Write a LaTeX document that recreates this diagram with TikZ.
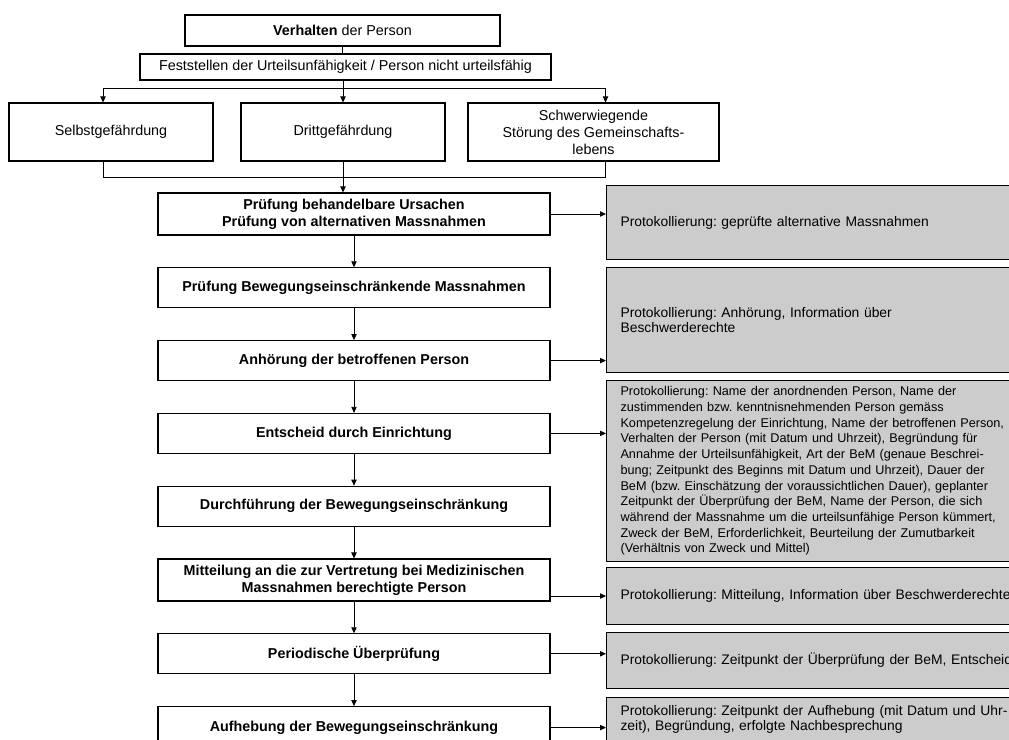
\documentclass[tikz,border=0pt]{standalone}
\usepackage{fontspec}
\setmainfont{Liberation Sans}
\usetikzlibrary{positioning,arrows.meta}
\frenchspacing

\begin{document}
\begin{tikzpicture}[x=0.75pt, y=-0.75pt,
  font=\fontsize{10.75}{12.8}\selectfont,
  base/.style={draw, line width=0.8pt, inner sep=0pt, align=center},
  stepbox/.style={base, minimum width=294pt, minimum height=30pt, font=\fontsize{10.75}{12.8}\selectfont\bfseries},
  casebox/.style={base, minimum width=153pt, minimum height=43.5pt},
  logbox/.style={base, fill=black!20, anchor=north west, align=left, inner xsep=10.5pt, text width=307.5pt,
    font=\fontsize{10.4}{11.8}\selectfont},
  arr/.style={-{Triangle[length=4.5pt,width=4pt]}, line width=0.6pt},
  node distance=23.8pt]
%\draw [help lines] (0,0) grid (1009,739);
\useasboundingbox (0,0) rectangle (1009,739);
\clip (0,0) rectangle (1009,739);

\node[base, minimum width=236.25pt, minimum height=23.25pt] (verh) at (342.5,30.5) {\textbf{Verhalten} der Person};
\node[base, minimum width=308.25pt, minimum height=19.5pt]  (fest) at (345.5,67)   {Feststellen der Urteilsunfähigkeit / Person nicht urteilsfähig};

\node[casebox]                          (selbst) at (111,132)   {Selbstgefährdung};
\node[casebox]                          (dritt)  at (343,132)   {Drittgefährdung};
\node[casebox, minimum width=188.25pt]  (schwer) at (593.5,132) {Schwerwiegende\\Störung des Gemeinschafts-\\lebens};

\node[stepbox, minimum height=31.5pt] (pr1) at (354,214) {Prüfung behandelbare Ursachen\\Prüfung von alternativen Massnahmen};
\node[stepbox, below = of pr1]        (pr2) {Prüfung Bewegungseinschränkende Massnahmen};
\node[stepbox, below = of pr2]        (pr3) {Anhörung der betroffenen Person};
\node[stepbox, below = of pr3]        (pr4) {Entscheid durch Einrichtung};
\node[stepbox, below = of pr4]        (pr5) {Durchführung der Bewegungseinschränkung};
\node[stepbox, below = of pr5, minimum height=31.5pt] (pr6) {Mitteilung an die zur Vertretung bei Medizinischen\\Massnahmen berechtigte Person};
\node[stepbox, below = of pr6]        (pr7) {Periodische Überprüfung};
\node[stepbox, below = of pr7, minimum height=31.5pt] (pr8) {Aufhebung der Bewegungseinschränkung};

\node[logbox, minimum height=55.5pt]   (p1) at (606,185) {Protokollierung: geprüfte alternative Massnahmen};
\node[logbox, minimum height=78.75pt]  (p2) at (606,267) {Protokollierung: Anhörung, Information über\\Beschwerderechte};
\node[logbox, minimum height=135.75pt, font=\fontsize{9.5}{11.8}\selectfont] (p3) at (606,380) {Protokollierung: Name der anordnenden Person, Name der\\
zustimmenden bzw. kenntnisnehmenden Person gemäss\\
Kompetenzregelung der Einrichtung, Name der betroffenen Person,\\
Verhalten der Person (mit Datum und Uhrzeit), Begründung für\\
Annahme der Urteilsunfähigkeit, Art der BeM (genaue Beschrei-\\
bung; Zeitpunkt des Beginns mit Datum und Uhrzeit), Dauer der\\
BeM (bzw. Einschätzung der voraussichtlichen Dauer), geplanter\\
Zeitpunkt der Überprüfung der BeM, Name der Person, die sich\\
während der Massnahme um die urteilsunfähige Person kümmert,\\
Zweck der BeM, Erforderlichkeit, Beurteilung der Zumutbarkeit\\
(Verhältnis von Zweck und Mittel)};
\node[logbox, minimum height=42.75pt]  (p4) at (606,567) {Protokollierung: Mitteilung, Information über Beschwerderechte};
\node[logbox, minimum height=42pt]     (p5) at (606,632) {Protokollierung: Zeitpunkt der Überprüfung der BeM, Entscheid};
\node[logbox, minimum height=33pt]     (p6) at (606,697) {Protokollierung: Zeitpunkt der Aufhebung (mit Datum und Uhr-\\zeit), Begründung, erfolgte Nachbesprechung};

% Edges
\coordinate (split) at (0,88);
\coordinate (join)  at (0,177);
\coordinate[xshift=-6pt] (sltop) at (selbst.north);
\coordinate[xshift=-6pt] (slbot) at (selbst.south);
\coordinate[xshift=9pt]  (swtop) at (schwer.north);
\coordinate[xshift=9pt]  (swbot) at (schwer.south);

\draw[line width=0.6pt] (verh.south) -- (verh.south |- fest.north);
\draw[arr] (fest.south -| dritt.north) -- (dritt.north);
\draw[line width=0.6pt] (sltop |- split) -- (swtop |- split);
\draw[arr] (sltop |- split) -- (sltop);
\draw[arr] (swtop |- split) -- (swtop);
\draw[line width=0.6pt] (slbot) -- (slbot |- join) -- (swbot |- join) -- (swbot);
\draw[arr] (dritt.south) -- (dritt.south |- pr1.north);

\foreach \a/\b in {pr1/pr2, pr2/pr3, pr3/pr4, pr4/pr5, pr5/pr6, pr6/pr7, pr7/pr8}
  \draw[arr] (\a) -- (\b);

\foreach \a/\b in {pr1/p1, pr3/p2, pr4/p3, pr7/p5, pr8/p6}
  \draw[arr] (\a.east) -- (\a.east -| \b.west);
\draw[arr] (p4.west -| pr6.east) -- (p4.west);
\end{tikzpicture}
\end{document}
